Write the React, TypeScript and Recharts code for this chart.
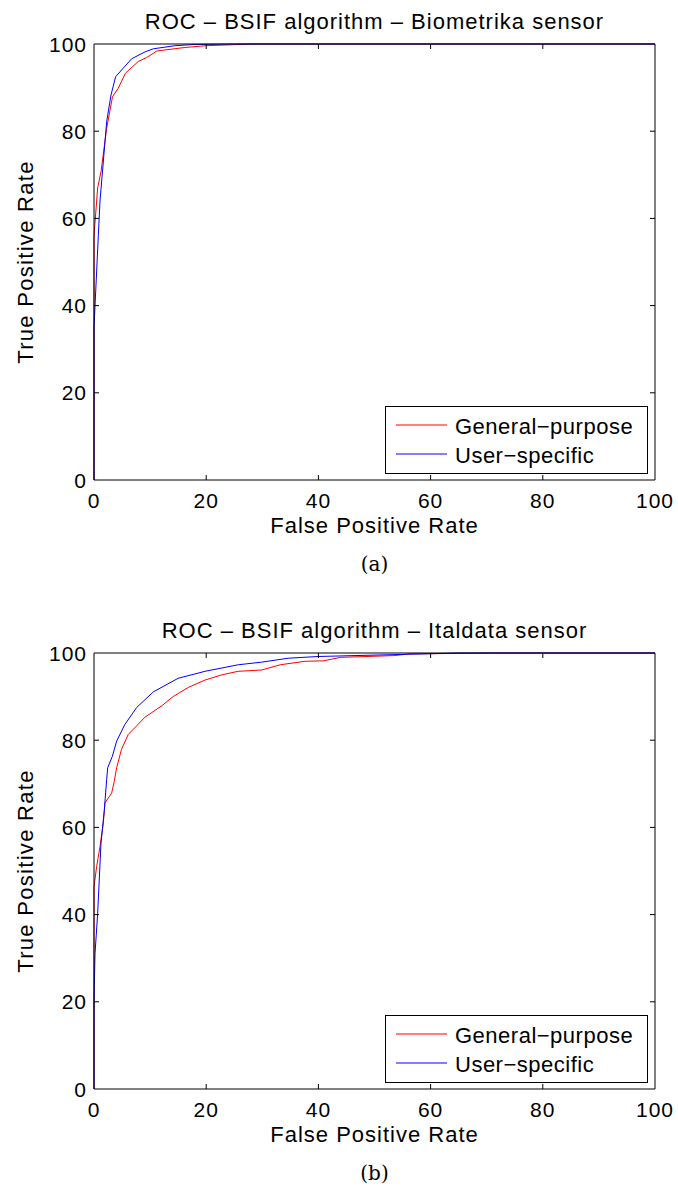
import React from 'react'
import { LineChart, Line, XAxis, YAxis, Label } from 'recharts'

// Biometrika sensor
const bioGeneralFpr = [0, 0, 0.65, 1.25, 2.26, 3.3, 4.3, 5.6, 7.9, 9.4, 11.2, 16.2, 19.8, 28, 100]
const bioGeneralTpr = [0, 56, 67, 70.7, 80.7, 87.9, 89.8, 93.3, 96, 96.9, 98.4, 99.2, 99.6, 100, 100]
const bioUserFpr = [0, 0, 0.77, 1.07, 2.26, 3.03, 3.86, 6.7, 9.1, 10.6, 14.4, 18, 25, 100]
const bioUserTpr = [0, 35, 56, 64, 82.2, 88.3, 92.5, 96.6, 98.2, 98.9, 99.6, 99.9, 100, 100]

// Italdata sensor
const itaGeneralFpr = [0, 0, 0.47, 1.07, 1.66, 1.96, 3.15, 3.6, 4.04, 4.9, 6.1, 9.1, 12.1, 14.1, 16.8, 19.8, 22.8, 25.7, 29.9, 33.2, 37.6, 40.9, 43.9, 53.4, 56.3, 65, 72, 100]
const itaGeneralTpr = [0, 46.4, 51, 55.6, 61, 65.6, 67.9, 70.5, 73.7, 77.9, 81.3, 85.3, 87.9, 90, 92.1, 93.8, 95, 95.8, 96.1, 97.3, 98.1, 98.2, 99, 99.4, 99.8, 99.9, 100, 100]
const itaUserFpr = [0, 0, 0.18, 0.65, 1.25, 1.84, 2.26, 2.44, 3.27, 4.04, 5.5, 7.6, 10.6, 15, 19.8, 25.7, 29.9, 34.6, 40, 55.7, 65, 100]
const itaUserTpr = [0, 20.3, 31, 40.2, 56.4, 64, 71, 73.7, 76.3, 79.8, 83.6, 87.5, 91.1, 94.2, 95.8, 97.3, 97.9, 98.8, 99.2, 99.7, 100, 100]

const axisTicks = [0, 20, 40, 60, 80, 100]
const seriesNames = ['General\u2212purpose', 'User\u2212specific']
const seriesColors = ['#ff0000', '#0000ff']

const FONT = '"Liberation Sans", Arial, Helvetica, sans-serif'

// plot box of each chart (inside the LineChart svg)
const W = 678
const H = 560
const M = { top: 44, right: 23, bottom: 44, left: 0 }
const Y_AXIS_W = 94
const X_AXIS_H = 36
const PLOT_TOP = M.top
const PLOT_BOTTOM = H - M.bottom - X_AXIS_H
const PLOT_LEFT = M.left + Y_AXIS_W
const PLOT_RIGHT = W - M.right
const TICK_LEN = 5
const X_TICK_MARGIN = 12
const Y_TICK_MARGIN = 7

const toPoints = (fpr: number[], tpr: number[]) => fpr.map((x, i) => ({ fpr: x, tpr: tpr[i] }))

// bottom tick: label + inward tick marks on bottom and top edges
const XTick = (props: any) => {
  const { x, y, payload } = props
  const inner = payload.value !== 0 && payload.value !== 100
  return (
    <g>
      {inner && (
        <>
          <line x1={x} x2={x} y1={PLOT_BOTTOM} y2={PLOT_BOTTOM - TICK_LEN} stroke="#000" />
          <line x1={x} x2={x} y1={PLOT_TOP} y2={PLOT_TOP + TICK_LEN} stroke="#000" />
        </>
      )}
      <text x={x} y={y} dy="0.75em" textAnchor="middle" fontFamily={FONT} fontSize={21} letterSpacing={1} fill="#000">
        {payload.value}
      </text>
    </g>
  )
}

// left tick: label + inward tick marks on left and right edges
const YTick = (props: any) => {
  const { x, y, payload } = props
  const inner = payload.value !== 0 && payload.value !== 100
  return (
    <g>
      {inner && (
        <>
          <line x1={PLOT_LEFT} x2={PLOT_LEFT + TICK_LEN} y1={y} y2={y} stroke="#000" />
          <line x1={PLOT_RIGHT} x2={PLOT_RIGHT - TICK_LEN} y1={y} y2={y} stroke="#000" />
        </>
      )}
      <text x={x} y={y} dy="0.36em" textAnchor="end" fontFamily={FONT} fontSize={21} letterSpacing={1} fill="#000">
        {payload.value}
      </text>
    </g>
  )
}

const LegendBox = () => (
  <svg width={263} height={68} style={{ display: 'block' }}>
    <rect x={0.5} y={0.5} width={262} height={67} fill="#fff" stroke="#000" strokeWidth={1} />
    {seriesNames.map((name, i) => {
      const cy = i === 0 ? 19 : 48
      return (
        <g key={name}>
          <line x1={11} x2={62} y1={cy} y2={cy} stroke={seriesColors[i]} strokeWidth={1.2} />
          <text x={70} y={cy + 8.5} fontFamily={FONT} fontSize={22} letterSpacing={0.5} fill="#000">
            {name}
          </text>
        </g>
      )
    })}
  </svg>
)

type RocProps = {
  top: number
  title: string
  tag: string
  general: { fpr: number; tpr: number }[]
  user: { fpr: number; tpr: number }[]
}

function RocChart({ top, title, tag, general, user }: RocProps) {
  return (
    <div style={{ position: 'absolute', left: 0, top, width: W, height: 600 }}>
      <div
        style={{
          position: 'absolute',
          left: PLOT_LEFT,
          width: PLOT_RIGHT - PLOT_LEFT,
          top: 8,
          textAlign: 'center',
          fontFamily: FONT,
          fontSize: 22,
          letterSpacing: 1,
          lineHeight: '28px',
          color: '#000',
          whiteSpace: 'nowrap',
        }}
      >
        {title}
      </div>
      <LineChart width={W} height={H} margin={M}>
        <XAxis
          xAxisId="b"
          type="number"
          dataKey="fpr"
          domain={[0, 100]}
          ticks={axisTicks}
          height={X_AXIS_H}
          tickSize={0}
          tickMargin={X_TICK_MARGIN}
          tick={XTick}
          axisLine={{ stroke: '#000' }}
          tickLine={false}
          interval={0}
        >
          <Label
            content={({ viewBox }: any) => (
              <text
                x={viewBox.x + viewBox.width / 2}
                y={viewBox.y + 53}
                textAnchor="middle"
                fontFamily={FONT}
                fontSize={22}
                letterSpacing={1}
                fill="#000"
              >
                False Positive Rate
              </text>
            )}
          />
        </XAxis>
        <YAxis
          yAxisId="l"
          type="number"
          domain={[0, 100]}
          ticks={axisTicks}
          width={Y_AXIS_W}
          tickSize={0}
          tickMargin={Y_TICK_MARGIN}
          tick={YTick}
          axisLine={{ stroke: '#000' }}
          tickLine={false}
          interval={0}
        >
          <Label
            content={({ viewBox }: any) => {
              const cx = 33
              const cy = viewBox.y + viewBox.height / 2
              return (
                <text
                  x={cx}
                  y={cy}
                  textAnchor="middle"
                  transform={`rotate(-90, ${cx}, ${cy})`}
                  fontFamily={FONT}
                  fontSize={22}
                  letterSpacing={1.3}
                  fill="#000"
                >
                  True Positive Rate
                </text>
              )
            }}
          />
        </YAxis>
        {/* frame: top and right edges */}
        <XAxis
          xAxisId="t"
          orientation="top"
          type="number"
          domain={[0, 100]}
          height={6}
          mirror
          tick={false}
          tickLine={false}
          axisLine={{ stroke: '#000' }}
        />
        <YAxis
          yAxisId="r"
          orientation="right"
          type="number"
          domain={[0, 100]}
          width={6}
          mirror
          tick={false}
          tickLine={false}
          axisLine={{ stroke: '#000' }}
        />
        <Line
          xAxisId="b"
          yAxisId="l"
          data={general}
          dataKey="tpr"
          type="linear"
          stroke={seriesColors[0]}
          strokeWidth={1}
          dot={false}
          isAnimationActive={false}
        />
        <Line
          xAxisId="b"
          yAxisId="l"
          data={user}
          dataKey="tpr"
          type="linear"
          stroke={seriesColors[1]}
          strokeWidth={1}
          dot={false}
          isAnimationActive={false}
        />
      </LineChart>
      <div style={{ position: 'absolute', left: 385, top: 406 }}>
        <LegendBox />
      </div>
      <div
        style={{
          position: 'absolute',
          left: PLOT_LEFT,
          width: PLOT_RIGHT - PLOT_LEFT,
          top: 551,
          textAlign: 'center',
          fontFamily: '"DejaVu Serif", "Liberation Serif", serif',
          fontSize: 20,
          lineHeight: '26px',
          color: '#000',
        }}
      >
        {tag}
      </div>
    </div>
  )
}

export default function App() {
  return (
    <div style={{ position: 'absolute', left: 0, top: 0, width: 678, height: 1187, background: '#fff' }}>
      <RocChart
        top={0}
        title="ROC – BSIF algorithm – Biometrika sensor"
        tag="(a)"
        general={toPoints(bioGeneralFpr, bioGeneralTpr)}
        user={toPoints(bioUserFpr, bioUserTpr)}
      />
      <RocChart
        top={609}
        title="ROC – BSIF algorithm – Italdata sensor"
        tag="(b)"
        general={toPoints(itaGeneralFpr, itaGeneralTpr)}
        user={toPoints(itaUserFpr, itaUserTpr)}
      />
    </div>
  )
}
